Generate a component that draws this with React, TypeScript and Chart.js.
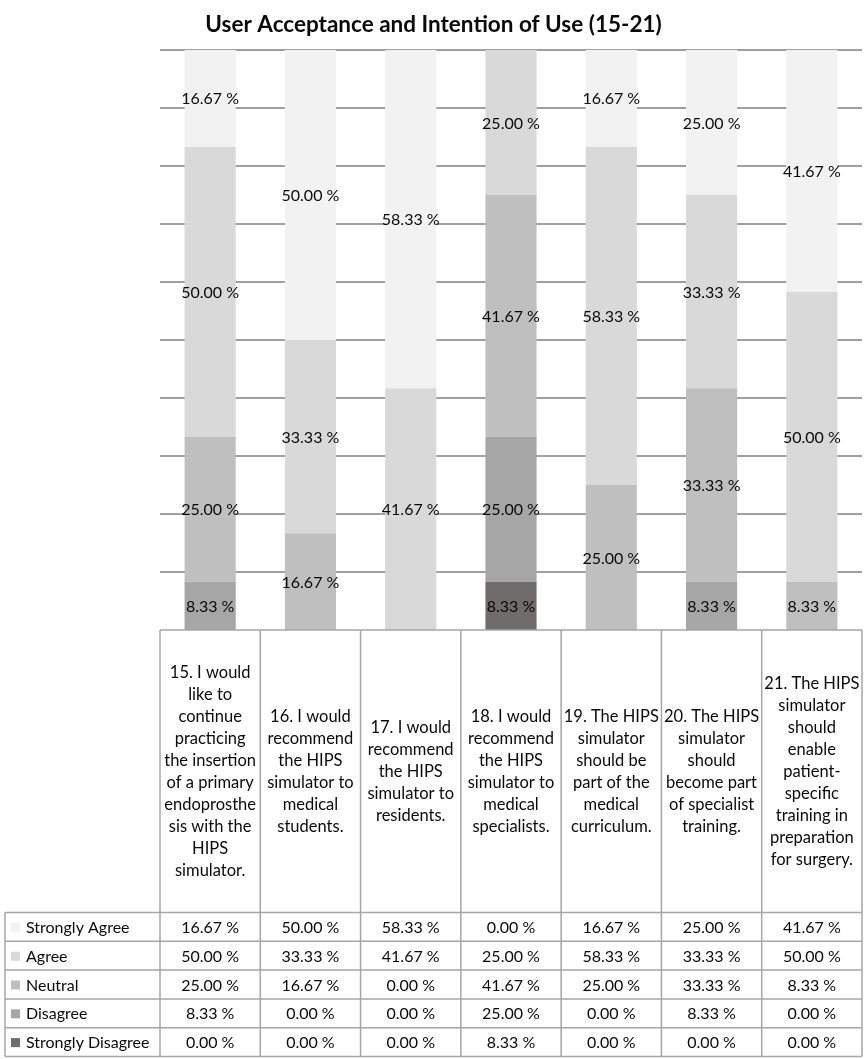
import React, { useEffect, useRef } from "react";
import { Chart, registerables } from "chart.js";

Chart.register(...registerables);

const chartTitle = "User Acceptance and Intention of Use (15-21)";

const categories: string[][] = [
  ["15. I would", "like to", "continue", "practicing", "the insertion", "of a primary", "endoprosthe", "sis with the", "HIPS", "simulator."],
  ["16. I would", "recommend", "the HIPS", "simulator to", "medical", "students."],
  ["17. I would", "recommend", "the HIPS", "simulator to", "residents."],
  ["18. I would", "recommend", "the HIPS", "simulator to", "medical", "specialists."],
  ["19. The HIPS", "simulator", "should be", "part of the", "medical", "curriculum."],
  ["20. The HIPS", "simulator", "should", "become part", "of specialist", "training."],
  ["21. The HIPS", "simulator", "should", "enable", "patient-", "specific", "training in", "preparation", "for surgery."],
];

const seriesNames = ["Strongly Agree", "Agree", "Neutral", "Disagree", "Strongly Disagree"];
const stronglyAgree = [16.67, 50.0, 58.33, 0.0, 16.67, 25.0, 41.67];
const agree = [50.0, 33.33, 41.67, 25.0, 58.33, 33.33, 50.0];
const neutral = [25.0, 16.67, 0.0, 41.67, 25.0, 33.33, 8.33];
const disagree = [8.33, 0.0, 0.0, 25.0, 0.0, 8.33, 0.0];
const stronglyDisagree = [0.0, 0.0, 0.0, 8.33, 0.0, 0.0, 0.0];
const seriesColors = ["#f2f2f2", "#d9d9d9", "#bfbfbf", "#a6a6a6", "#716c6c"];

const yMin = 0;
const yMax = 100;
const yStep = 10;

const seriesValues = [stronglyAgree, agree, neutral, disagree, stronglyDisagree];

const FONT = "Lato, 'Open Sans', sans-serif";
const fmt = (v: number) => v.toFixed(2) + " %";

const dataLabelPlugin = {
  id: "dataLabels",
  afterDatasetsDraw(chart: any) {
    const ctx = chart.ctx;
    ctx.save();
    ctx.font = `16px ${FONT}`;
    ctx.fillStyle = "#0a0a0a";
    ctx.textAlign = "center";
    ctx.textBaseline = "middle";
    chart.data.datasets.forEach((ds: any, di: number) => {
      const meta = chart.getDatasetMeta(di);
      meta.data.forEach((el: any, i: number) => {
        const v = ds.data[i];
        if (!v) return;
        const p = el.getProps(["x", "y", "base"], true);
        ctx.fillText(fmt(v), p.x, (p.y + p.base) / 2 + 1);
      });
    });
    ctx.restore();
  },
};

const tablePlugin = {
  id: "dataTable",
  afterDraw(chart: any) {
    const ctx = chart.ctx;
    const xs = chart.scales.x;
    const area = chart.chartArea;
    const n = categories.length;
    const colW = (area.right - area.left) / n;
    const top = area.bottom;
    const headerBottom = top + 282.5;
    const rowH = 28.8;
    const tableLeft = 5;
    const rows = seriesNames.length;
    const bottom = headerBottom + rowH * rows;
    const right = area.right;

    ctx.save();
    ctx.strokeStyle = "#a6a6a6";
    ctx.lineWidth = 1.5;
    ctx.beginPath();
    ctx.moveTo(area.left, top);
    ctx.lineTo(right, top);
    for (let r = 0; r <= rows; r++) {
      const y = headerBottom + r * rowH;
      ctx.moveTo(tableLeft, y);
      ctx.lineTo(right, y);
    }
    ctx.moveTo(tableLeft, headerBottom);
    ctx.lineTo(tableLeft, bottom);
    for (let i = 0; i <= n; i++) {
      const x = i < n ? xs.getPixelForValue(i) - colW / 2 : xs.getPixelForValue(n - 1) + colW / 2;
      ctx.moveTo(x, top);
      ctx.lineTo(x, bottom);
    }
    ctx.stroke();

    ctx.fillStyle = "#0a0a0a";
    ctx.textAlign = "center";
    ctx.textBaseline = "middle";
    ctx.font = `16.5px ${FONT}`;
    const lh = 22;
    const hc = (top + headerBottom) / 2;
    categories.forEach((lines, i) => {
      const cx = xs.getPixelForValue(i);
      const start = hc - ((lines.length - 1) * lh) / 2;
      lines.forEach((ln, k) => ctx.fillText(ln, cx, start + k * lh));
    });

    ctx.font = `16px ${FONT}`;
    seriesNames.forEach((name, r) => {
      const cy = headerBottom + r * rowH + rowH / 2 + 1;
      ctx.fillStyle = seriesColors[r];
      ctx.fillRect(11, cy - 5, 9, 9);
      ctx.fillStyle = "#0a0a0a";
      ctx.textAlign = "left";
      ctx.fillText(name, 26, cy);
      ctx.textAlign = "center";
      seriesValues[r].forEach((v, i) => {
        ctx.fillText(fmt(v), xs.getPixelForValue(i), cy);
      });
    });
    ctx.restore();
  },
};

export default function App() {
  const ref = useRef<HTMLCanvasElement | null>(null);
  useEffect(() => {
    if (!ref.current) return;
    const order = [4, 3, 2, 1, 0];
    const chart = new Chart(ref.current, {
      type: "bar",
      data: {
        labels: categories.map((c) => c.join(" ")),
        datasets: order.map((idx) => ({
          label: seriesNames[idx],
          data: seriesValues[idx],
          backgroundColor: seriesColors[idx],
          borderWidth: 0,
          barPercentage: 0.51,
          categoryPercentage: 1,
        })),
      },
      options: {
        responsive: false,
        animation: false,
        devicePixelRatio: 1,
        layout: { padding: { left: 5, right: 3, top: 0, bottom: 429 } },
        plugins: {
          legend: { display: false },
          tooltip: { enabled: false },
          title: {
            display: true,
            text: chartTitle,
            color: "#0a0a0a",
            font: { family: FONT, size: 22.5, weight: "bold" },
            padding: { top: 11.5, bottom: 11.5 },
          },
        },
        scales: {
          x: { stacked: true, display: false },
          y: {
            stacked: true,
            min: yMin,
            max: yMax,
            ticks: { display: false, stepSize: yStep },
            border: { display: false },
            grid: {
              color: "#a0a0a0",
              lineWidth: (c: any) => (c.tick && c.tick.value === 0 ? 0 : 2),
              drawTicks: false,
            },
            afterFit: (scale: any) => {
              scale.width = 155;
            },
          },
        },
      },
      plugins: [dataLabelPlugin, tablePlugin],
    });
    return () => chart.destroy();
  }, []);
  return (
    <div style={{ position: "absolute", left: 0, top: 0, width: 865, height: 1059, background: "#fff" }}>
      <canvas ref={ref} width={865} height={1059} style={{ width: 865, height: 1059 }} />
    </div>
  );
}
